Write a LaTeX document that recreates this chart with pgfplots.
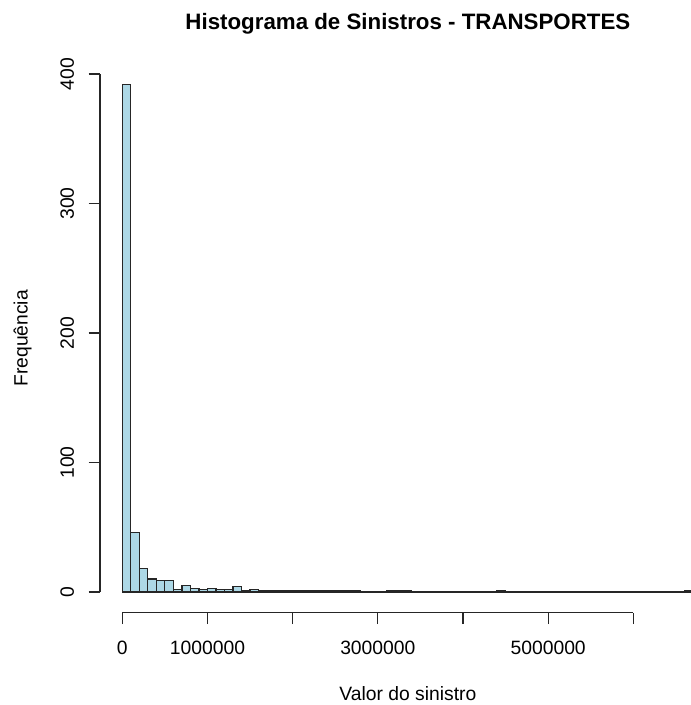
\documentclass[border=0pt]{standalone}
\usepackage{pgfplots}
\usepackage{pgfplotstable}
\pgfplotsset{compat=1.18}
\usepackage{fontspec}
\setmainfont{Liberation Sans}
\definecolor{lightblueR}{HTML}{ADD8E6}

% Claim counts per 100000-wide class, left edge of each class
\pgfplotstableread{
x count
0 392
100000 46
200000 18
300000 10
400000 9
500000 9
600000 2
700000 5
800000 3
900000 2
1000000 3
1100000 2
1200000 2
1300000 4
1400000 1
1500000 2
1600000 1
1700000 1
1800000 1
1900000 1
2000000 1
2100000 1
2200000 1
2300000 1
2400000 1
2500000 1
2600000 1
2700000 1
2800000 0
2900000 0
3000000 0
3100000 1
3200000 1
3300000 1
3400000 0
3500000 0
3600000 0
3700000 0
3800000 0
3900000 0
4000000 0
4100000 0
4200000 0
4300000 0
4400000 1
4500000 0
4600000 0
4700000 0
4800000 0
4900000 0
5000000 0
5100000 0
5200000 0
5300000 0
5400000 0
5500000 0
5600000 0
5700000 0
5800000 0
5900000 0
6000000 0
6100000 0
6200000 0
6300000 0
6400000 0
6500000 0
6600000 1
6700000 0
}\sinistros

\begin{document}
\fontsize{19.3pt}{23pt}\selectfont
\begin{tikzpicture}[x=1pt,y=1pt]
\useasboundingbox (0,0) rectangle (691,705);
\begin{axis}[
  at={(100pt,92.3pt)}, anchor=south west,
  scale only axis, width=615.8pt, height=548.7pt,
  xmin=-261800, xmax=6968000, ymin=-15.98, ymax=407.7,
  clip=false,
  axis x line*=bottom, axis y line*=left,
  axis line style={draw=none},
  tick align=outside, major tick length=11.3pt,
  tick style={black!85, line width=1.1pt},
  scaled x ticks=false,
  xtick={0,1000000,2000000,3000000,4000000,5000000,6000000},
  xticklabels={0,1000000,,3000000,,5000000,},
  ytick={0,100,200,300,400},
  yticklabels={0,100,200,300,400},
  /pgf/number format/assume math mode=true,
  ticklabel style={font=\fontsize{19.3pt}{23pt}\selectfont},
  xticklabel style={yshift=-10pt},
  yticklabel style={xshift=-8pt, rotate=90},
  xlabel={Valor do sinistro},
  ylabel={Frequência},
  label style={font=\fontsize{19.3pt}{23pt}\selectfont},
  xlabel style={at={(axis description cs:0.5,-0.1591)}, anchor=base, inner sep=0pt},
  ylabel style={at={(axis description cs:-0.1177,0.5)}, anchor=base, inner sep=0pt, rotate=0},
  title={Histograma de Sinistros - TRANSPORTES},
  title style={at={(axis description cs:0.5,1.0528)}, anchor=base, inner sep=0pt,
    font=\bfseries\fontsize{22.3pt}{26pt}\selectfont},
]
\addplot[ybar interval, fill=lightblueR, draw=black!85, line width=1.2pt]
  table[x=x, y=count] {\sinistros};
\draw[black!85, line width=1.1pt] (axis cs:0,-15.98) -- (axis cs:6000000,-15.98);
\draw[black!85, line width=1.1pt] (axis cs:-261800,0) -- (axis cs:-261800,400);
\end{axis}
\end{tikzpicture}
\end{document}
